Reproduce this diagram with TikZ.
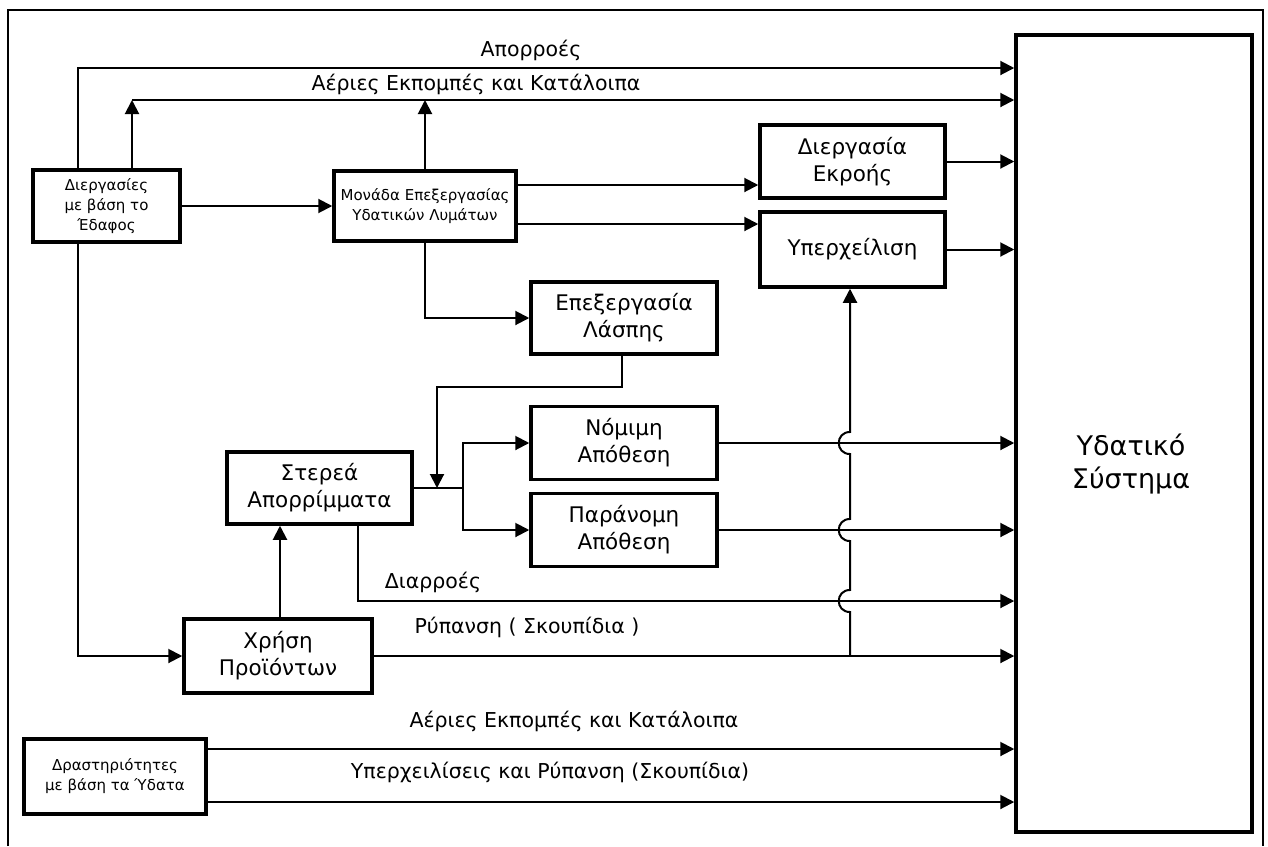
\documentclass[tikz,border=0pt]{standalone}
\usepackage{fontspec}
\setmainfont{DejaVu Sans}
\usetikzlibrary{arrows.meta}
\begin{document}
\begin{tikzpicture}[x=1pt,y=-1pt,
  box/.style={draw,line width=3.5pt,align=center,inner sep=0pt,font=\fontsize{21.5}{27}\selectfont},
  sbox/.style={box,font=\fontsize{15}{20}\selectfont},
  conn/.style={line width=2pt},
  arr/.style={conn,-{Triangle[length=14pt,width=14pt]}},
  lab/.style={font=\fontsize{20.5}{24}\selectfont,inner sep=0pt}]
\useasboundingbox (0,0) rectangle (1268,846);
\draw[line width=1.5pt] (8,846) -- (8,10) -- (1263,10) -- (1263,846);

% helper rows / columns
\coordinate (r68) at (0,68);
\coordinate (r100) at (0,100);
\coordinate (r185) at (0,185);
\coordinate (r224) at (0,224);
\coordinate (r387) at (0,387);
\coordinate (r600) at (0,601);
\coordinate (r748) at (0,749);
\coordinate (r802) at (0,802);
\coordinate (c78) at (78,0);
\coordinate (c132) at (132,0);
\coordinate (c622) at (622,0);
\coordinate (c437) at (437,0);
\coordinate (c463) at (463,0);
\coordinate (c358) at (358,0);
\coordinate (c280) at (280,0);
\coordinate (c850) at (850,0);

% boxes
\node[sbox, minimum width=147pt, minimum height=72pt] (dier) at (106.5,206) {Διεργασίες\\με βάση το\\Έδαφος};
\node[sbox, minimum width=182pt, minimum height=70pt] (mon) at (425,206) {Μονάδα Επεξεργασίας\\Υδατικών Λυμάτων};
\node[box, minimum width=185pt, minimum height=73pt] (ekr) at (852.5,161.5) {Διεργασία\\Εκροής};
\node[box, minimum width=185pt, minimum height=75pt] (yp) at (852.5,249.5) {Υπερχείλιση};
\node[box, minimum width=186pt, minimum height=72pt] (las) at (624,318) {Επεξεργασία\\Λάσπης};
\node[box, minimum width=185pt, minimum height=72pt] (ste) at (319.5,488) {Στερεά\\Απορρίμματα};
\node[box, minimum width=186pt, minimum height=73pt] (nom) at (624,443) {Νόμιμη\\Απόθεση};
\node[box, minimum width=186pt, minimum height=73pt] (par) at (624,530) {Παράνομη\\Απόθεση};
\node[box, minimum width=188pt, minimum height=74pt] (xr) at (278,656) {Χρήση\\Προϊόντων};
\node[sbox, minimum width=182pt, minimum height=75pt] (dra) at (115,776.5) {Δραστηριότητες\\με βάση τα Ύδατα};
\node[draw, line width=3.5pt, minimum width=236pt, minimum height=797pt, inner sep=0pt] (sys) at (1134,433.5) {};
\node[align=center, inner sep=0pt, font=\fontsize{27}{33}\selectfont] (systxt) at (1131,464) {Υδατικό\\Σύστημα};

% connectors
\draw[arr] (dier.north -| c78) |- (sys.west |- r68);
\draw[arr] (dier.north -| c132) -- (c132 |- r100);
\draw[arr] (c132 |- r100) -- (sys.west |- r100);
\draw[arr] (mon.north) -- (mon.north |- r100);
\draw[arr] (dier.east) -- (mon.west);
\draw[arr] (mon.east |- r185) -- (ekr.west |- r185);
\draw[arr] (mon.east |- r224) -- (yp.west |- r224);
\draw[arr] (ekr.east) -- (sys.west |- ekr.east);
\draw[arr] (yp.east) -- (sys.west |- yp.east);
\draw[arr] (mon.south) |- (las.west);
\draw[arr] (las.south -| c622) -- (c622 |- r387) -| (c437 |- ste.east);
\draw[conn] (ste.east) -- (c463 |- ste.east);
\draw[arr] (c463 |- ste.east) |- (nom.west);
\draw[arr] (c463 |- ste.east) |- (par.west);
\draw[arr] (nom.east) -- (sys.west |- nom.east);
\draw[arr] (par.east) -- (sys.west |- par.east);
\draw[arr] (ste.south -| c358) |- (sys.west |- r600);
\draw[arr] (xr.north -| c280) -- (ste.south -| c280);
\draw[arr] (dier.south -| c78) |- (xr.west);
\draw[arr] (xr.east) -- (sys.west |- xr.east);
\draw[arr] (c850 |- xr.east) -- (850,612) .. controls (835,612) and (835,590) .. (850,590)
  -- (850,541) .. controls (835,541) and (835,519) .. (850,519)
  -- (850,454) .. controls (835,454) and (835,432) .. (850,432)
  -- (yp.south -| c850);
\draw[arr] (dra.east |- r748) -- (sys.west |- r748);
\draw[arr] (dra.east |- r802) -- (sys.west |- r802);

% labels
\node[lab] (l1) at (531,50) {Απορροές};
\node[lab] (l2) at (476,84) {Αέριες Εκπομπές και Κατάλοιπα};
\node[lab] (l3) at (433,582) {Διαρροές};
\node[lab] (l4) at (527,627) {Ρύπανση ( Σκουπίδια )};
\node[lab] (l5) at (574,721) {Αέριες Εκπομπές και Κατάλοιπα};
\node[lab] (l6) at (550,772) {Υπερχειλίσεις και Ρύπανση (Σκουπίδια)};
\end{tikzpicture}
\end{document}
